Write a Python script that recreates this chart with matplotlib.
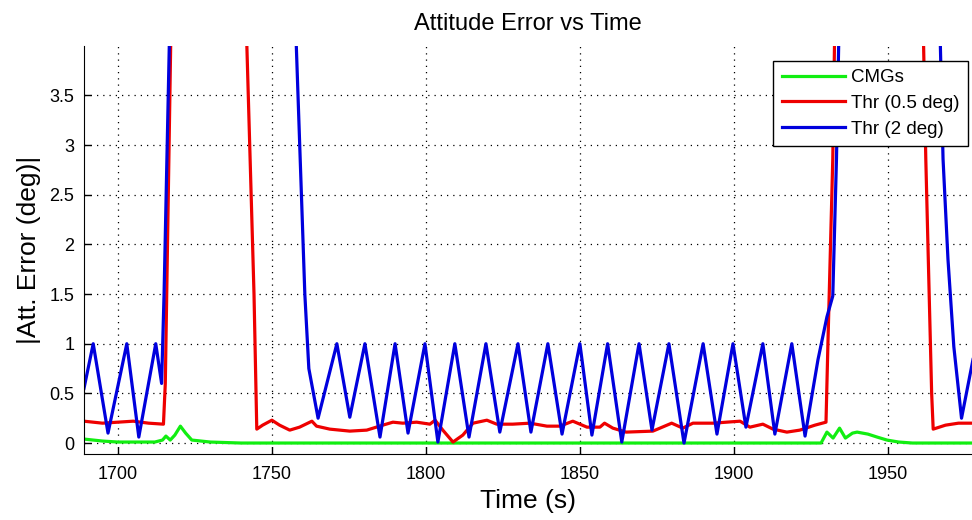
import matplotlib
matplotlib.use("Agg")
import matplotlib.pyplot as plt

plt.rcParams['font.family'] = ['Liberation Sans', 'DejaVu Sans']

# CMG attitude error
t_cmg = [1689, 1695, 1700, 1712, 1714.5, 1715.6, 1717, 1718.5, 1720.3, 1722, 1724,
         1730, 1740, 1928.3, 1930.2, 1932.2, 1934.3, 1936.2, 1938.5, 1940, 1943.5,
         1946.5, 1949.7, 1953.5, 1958, 1978]
e_cmg = [0.04, 0.02, 0.01, 0.01, 0.03, 0.07, 0.03, 0.08, 0.17, 0.10, 0.03,
         0.01, 0.0, 0.0, 0.11, 0.05, 0.15, 0.05, 0.10, 0.11, 0.09,
         0.06, 0.03, 0.01, 0.0, 0.0]

# thrusters, 0.5 deg deadband
t_thr05 = [1689, 1695, 1700, 1705, 1710, 1714.8, 1715.4, 1717.3, 1741.6, 1744.2, 1745.1,
           1747, 1750, 1752.5, 1755.8, 1759, 1763, 1764.5, 1768.8, 1775.3, 1780.8,
           1786, 1789.3, 1792.5, 1797, 1801.3, 1803, 1805.5, 1808.8, 1812, 1815.3,
           1819.8, 1823, 1828.2, 1833.8, 1839.3, 1843.5, 1847.7, 1852.3, 1856.5, 1858,
           1860.7, 1865, 1873.7, 1879.8, 1883.4, 1886.7, 1893.2, 1902, 1905.2, 1909.4,
           1912.7, 1917.2, 1921.4, 1926.3, 1929.9, 1930.5, 1932.1, 1932.8, 1961.4,
           1962.3, 1964.2, 1964.7, 1968.7, 1972.9, 1978]
e_thr05 = [0.22, 0.20, 0.21, 0.22, 0.20, 0.19, 0.6, 4.3, 4.3, 1.5, 0.14,
           0.18, 0.23, 0.18, 0.13, 0.16, 0.22, 0.17, 0.14, 0.12, 0.13,
           0.18, 0.21, 0.20, 0.21, 0.19, 0.23, 0.13, 0.01, 0.08, 0.20,
           0.23, 0.19, 0.19, 0.20, 0.17, 0.17, 0.22, 0.16, 0.16, 0.20,
           0.15, 0.11, 0.12, 0.20, 0.15, 0.20, 0.20, 0.22, 0.16, 0.19,
           0.14, 0.11, 0.13, 0.18, 0.21, 0.97, 2.86, 4.3, 4.3,
           2.86, 0.5, 0.14, 0.18, 0.20, 0.20]

# thrusters, 2 deg deadband
t_thr2 = [1689, 1692.0, 1696.8, 1702.9, 1706.8, 1712.3, 1714.2, 1715.0, 1716.9, 1757.6,
          1760.7, 1762.0, 1765.0, 1771.1, 1775.3, 1780.2, 1785.1, 1790.0, 1794.2,
          1799.7, 1803.9, 1809.4, 1814.0, 1819.5, 1824.0, 1829.9, 1834.1, 1839.6, 1844.2,
          1850.0, 1853.9, 1859.0, 1863.6, 1869.2, 1873.4, 1878.9, 1883.8, 1890.0, 1894.5,
          1899.7, 1903.9, 1909.4, 1913.3, 1918.8, 1923.1, 1927.3, 1930.2, 1932.1, 1933.3,
          1934.2, 1966.8, 1967.9, 1969.5, 1971.4, 1973.9, 1978]
e_thr2 = [0.55, 1.0, 0.10, 1.0, 0.06, 1.0, 0.6, 1.5, 4.3, 4.3,
          1.5, 0.75, 0.25, 1.0, 0.26, 1.0, 0.06, 1.0, 0.10,
          1.0, 0.01, 1.0, 0.06, 1.0, 0.11, 1.0, 0.11, 1.0, 0.09,
          1.0, 0.08, 1.0, 0.01, 1.0, 0.13, 1.0, 0.0, 1.0, 0.09,
          1.0, 0.16, 1.0, 0.09, 1.0, 0.07, 0.84, 1.27, 1.48, 2.86,
          4.3, 4.3, 2.86, 1.85, 0.97, 0.25, 0.9]

xticks = [1700, 1750, 1800, 1850, 1900, 1950]
yticks = [0, 0.5, 1, 1.5, 2, 2.5, 3, 3.5]
ytick_labels = ['0', '0.5', '1', '1.5', '2', '2.5', '3', '3.5']

fig = plt.figure(figsize=(9.72, 5.2), dpi=100)
ax = fig.add_axes([0.0864, 0.127, 0.9136, 0.785])

ax.plot(t_cmg, e_cmg, color='#11ee11', lw=2.3, label='CMGs')
ax.plot(t_thr05, e_thr05, color='#ee0000', lw=2.3, label='Thr (0.5 deg)')
ax.plot(t_thr2, e_thr2, color='#0000dd', lw=2.3, label='Thr (2 deg)')

ax.set_xlim(1689, 1977.3)
ax.set_ylim(-0.11, 4.0)
ax.set_xticks(xticks)
ax.set_yticks(yticks)
ax.set_yticklabels(ytick_labels)
ax.tick_params(direction='in', labelsize=13, length=5, width=1)
ax.tick_params(axis='x', pad=9)
ax.tick_params(axis='y', pad=7)
ax.grid(True, color='k', linestyle=(0, (1, 4)), lw=0.9)
ax.spines['top'].set_visible(False)
ax.spines['right'].set_visible(False)

ax.set_title('Attitude Error vs Time', fontsize=17, pad=11)
ax.set_xlabel('Time (s)', fontsize=19, labelpad=4)
ax.set_ylabel('|Att. Error (deg)|', fontsize=19, labelpad=6)

leg = ax.legend(loc='upper right', bbox_to_anchor=(0.9955, 0.963), borderaxespad=0,
                fontsize=13.5, fancybox=False, framealpha=1, edgecolor='k',
                handlelength=3.4, handletextpad=0.3, labelspacing=0.45,
                borderpad=0.45)
leg.get_frame().set_linewidth(1.0)

fig.savefig('out.png', dpi=100)
